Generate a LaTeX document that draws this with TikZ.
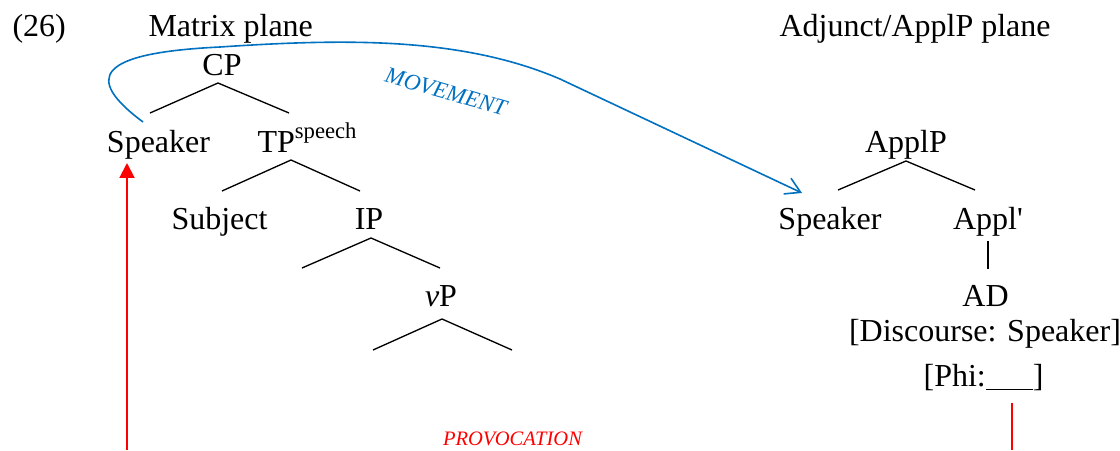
\documentclass[tikz,border=0pt]{standalone}
\usepackage{fontspec}
\setmainfont{Liberation Serif}
\newfontfamily\plainserif{Liberation Serif}[Ligatures=TeXOff]
\usetikzlibrary{arrows.meta}
\definecolor{mvblue}{RGB}{0,112,192}
\begin{document}
\begin{tikzpicture}[x=0.375pt,y=-0.375pt,
  lbl/.style={inner sep=0pt,anchor=base,font=\fontsize{12}{14}\selectfont},
  lblw/.style={lbl,anchor=base west},
  branch/.style={draw=black,line width=0.5pt},
  movearrow/.style={draw=mvblue,line width=0.6pt,-{Straight Barb[length=5.5pt,width=6.5pt]}},
  provline/.style={draw=red,line width=0.75pt}]
\useasboundingbox (0,0) rectangle (1120,450);
% headings
\node[lblw] (num) at (12,36) {(26)};
\node[lblw] (matrix) at (148,36) {Matrix plane};
\node[lblw] (adjunct) at (779,36) {Adjunct/ApplP plane};
% matrix tree
\node[lbl] (CP) at (222,75) {CP};
\node[lbl] (SpkL) at (158.5,152) {Speaker};
\node[lblw] (TP) at (257,152) {TP\raisebox{5.2pt}{\fontsize{8.5}{10}\selectfont speech}};
\node[lbl] (Subj) at (219.5,229) {Subject};
\node[lbl] (IP) at (369,229) {IP};
\node[lbl] (vP) at (441,306) {\textit{v}P};
\coordinate (cpA) at (218,83);
\coordinate (cpL) at (150,113);
\coordinate (cpR) at (289,113);
\coordinate (tpA) at (291,160);
\coordinate (tpL) at (222,191);
\coordinate (tpR) at (360,191);
\coordinate (ipA) at (371,238);
\coordinate (ipL) at (302,268);
\coordinate (ipR) at (440,268);
\coordinate (vpA) at (442,319);
\coordinate (vpL) at (373,350);
\coordinate (vpR) at (512,350);
\draw[branch] (cpL) -- (cpA) -- (cpR);
\draw[branch] (tpL) -- (tpA) -- (tpR);
\draw[branch] (ipL) -- (ipA) -- (ipR);
\draw[branch] (vpL) -- (vpA) -- (vpR);
% adjunct tree
\node[lbl] (ApplP) at (906,152) {ApplP};
\node[lbl] (SpkR) at (830,229) {Speaker};
\node[lbl] (Applbar) at (988,229) {{\plainserif Appl'}};
\node[lbl] (AD) at (985.5,306) {AD};
\node[lbl] (Disc) at (985,341) {[Discourse: Speaker]};
\node[lbl] (Phi) at (983.5,386) {[Phi:\rule[-1.5pt]{17.6pt}{0.5pt}]};
\coordinate (apA) at (906,161);
\coordinate (apL) at (838,190);
\coordinate (apR) at (975,190);
\coordinate (abT) at (988,241);
\coordinate (abB) at (988,269);
\draw[branch] (apL) -- (apA) -- (apR);
\draw[branch] (abT) -- (abB);
% movement
\coordinate (mvS) at (143,122);
\coordinate (mvM) at (220,47);
\coordinate (mvK) at (560,79);
\coordinate (mvE) at (802,193);
\draw[movearrow] (mvS) .. controls (84,78) and (96,53) .. (mvM)
  .. controls (340,39) and (460,36) .. (mvK) -- (mvE);
\node[inner sep=0pt,text=mvblue,rotate=-16,font=\fontsize{8.6}{10}\selectfont\itshape] (mvlab) at (446,92) {MOVEMENT};
% provocation
\coordinate (prB) at (127,450);
\coordinate (prT) at (127,163);
\coordinate (prR1) at (1012,403);
\coordinate (prR2) at (1012,450);
\draw[provline,-{Triangle[length=5.6pt,width=5.6pt]}] (prB) -- (prT);
\draw[provline] (prR1) -- (prR2);
\node[lbl,text=red,font=\fontsize{7.7}{9}\selectfont\itshape] (prov) at (512.5,445) {PROVOCATION};
\end{tikzpicture}
\end{document}
